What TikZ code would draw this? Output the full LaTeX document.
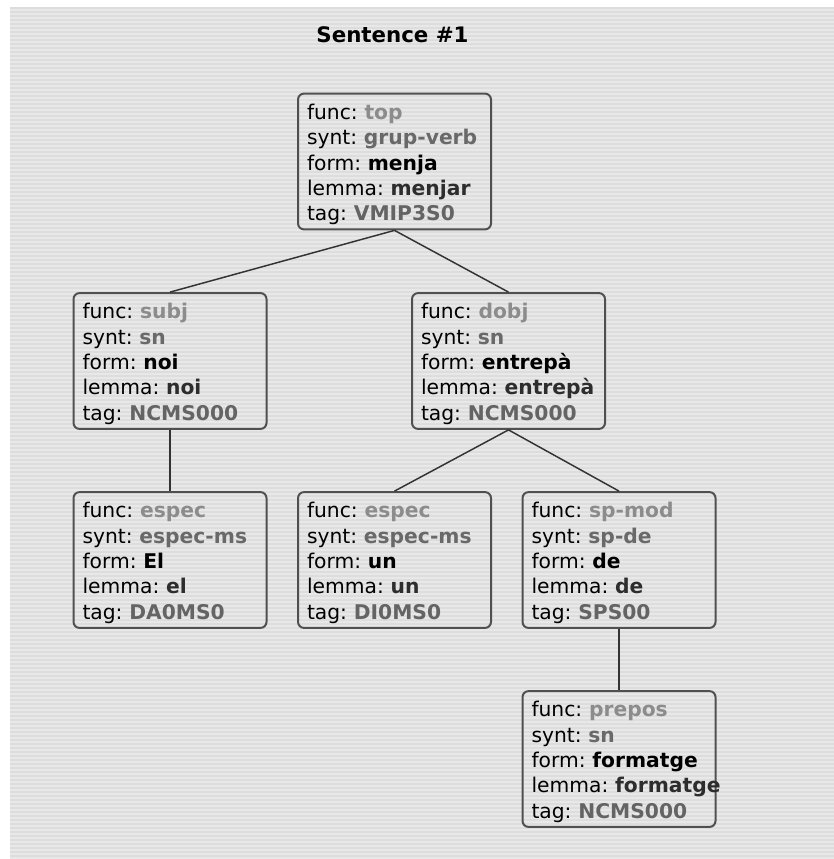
\documentclass[tikz,border=0pt]{standalone}
\usepackage{fontspec}
\setmainfont{DejaVu Sans}
\usepackage{tikz}
\definecolor{bggray}{RGB}{232, 232, 232}
\definecolor{stripegray}{RGB}{221, 221, 221}
\definecolor{boxgray}{RGB}{80, 80, 80}
\definecolor{funcgray}{RGB}{140, 140, 140}
\definecolor{syntgray}{RGB}{105, 105, 105}
\definecolor{lemmagray}{RGB}{45, 45, 45}
\definecolor{taggray}{RGB}{100, 100, 100}

% one feature box: func, synt, form, lemma, tag
\newcommand{\feats}[5]{%
\mbox{\rule{0pt}{16pt}func: \textbf{\textcolor{funcgray}{#1}}}\\
\mbox{synt: \textbf{\textcolor{syntgray}{#2}}}\\
\mbox{form: \textbf{#3}}\\
\mbox{lemma: \textbf{\textcolor{lemmagray}{#4}}}\\
\mbox{tag: \textbf{\textcolor{taggray}{#5}}}}

\begin{document}
\frenchspacing
\begin{tikzpicture}[
    x=0.75pt, y=-0.75pt,
    feat/.style={rectangle, draw=boxgray, line width=1.5pt, rounded corners=4.5pt, minimum width=144.75pt, minimum height=99.75pt, text width=131.25pt, inner xsep=6.75pt, align=left, font=\fontsize{15.2}{19}\selectfont},
    branch/.style={draw=black!80, line width=1.1pt}
]
    \useasboundingbox (0,0) rectangle (834,859);

    % striped backdrop
    \fill[bggray] (10,7) rectangle (834,859);
    \foreach \y in {8,12,...,856}
        \draw[stripegray, line width=1.5pt] (10,\y) -- (834,\y);

    \node[font=\fontsize{16}{19}\selectfont\bfseries] (title) at (392.5,35) {Sentence \#1};

    \node[feat] (top) at (394.5,161.5) {\feats{top}{grup-verb}{menja}{menjar}{VMIP3S0}};

    \node[feat] (subj) at (170,361) {\feats{subj}{sn}{noi}{noi}{NCMS000}};
    \node[feat] (dobj) at (508.5,361) {\feats{dobj}{sn}{entrepà}{entrepà}{NCMS000}};

    \node[feat] (el) at (170,560) {\feats{espec}{espec-ms}{El}{el}{DA0MS0}};
    \node[feat] (un) at (394.5,560) {\feats{espec}{espec-ms}{un}{un}{DI0MS0}};
    \node[feat] (spmod) at (619,560) {\feats{sp-mod}{sp-de}{de}{de}{SPS00}};

    \node[feat] (prepos) at (619,759) {\feats{prepos}{sn}{formatge}{formatge}{NCMS000}};

    % tree branches
    \draw[branch] (top.south) -- (subj.north);
    \draw[branch] (top.south) -- (dobj.north);
    \draw[branch] (subj.south) -- (el.north);
    \draw[branch] (dobj.south) -- (un.north);
    \draw[branch] (dobj.south) -- (spmod.north);
    \draw[branch] (spmod.south) -- (prepos.north);

\end{tikzpicture}
\end{document}
